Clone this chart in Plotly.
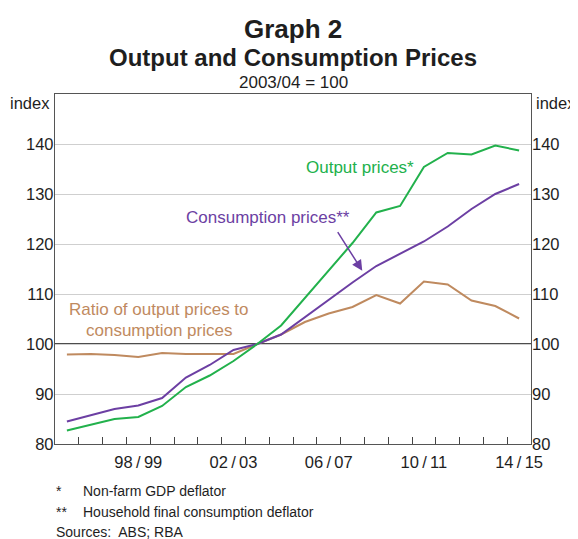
import plotly.graph_objects as go

years = ["95/96", "96/97", "97/98", "98/99", "99/00", "00/01", "01/02", "02/03", "03/04", "04/05",
         "05/06", "06/07", "07/08", "08/09", "09/10", "10/11", "11/12", "12/13", "13/14", "14/15"]
output_prices = [82.7, 83.9, 85.0, 85.4, 87.6, 91.4, 93.7, 96.6, 100.0, 103.7,
                 109.2, 114.8, 120.2, 126.3, 127.6, 135.4, 138.2, 137.9, 139.7, 138.7]
consumption_prices = [84.5, 85.7, 87.0, 87.7, 89.2, 93.3, 95.8, 98.8, 100.0, 101.9,
                      105.4, 108.9, 112.3, 115.6, 118.1, 120.5, 123.5, 127.0, 130.0, 132.0]
ratio = [97.9, 98.0, 97.8, 97.4, 98.2, 98.0, 98.0, 98.0, 100.0, 101.9,
         104.4, 106.1, 107.4, 109.8, 108.1, 112.5, 111.9, 108.7, 107.6, 105.1]
x_tick_idx = [3, 7, 11, 15, 19]
x_tick_text = ["98\u2009/\u200999", "02\u2009/\u200903", "06\u2009/\u200907", "10\u2009/\u200911", "14\u2009/\u200915"]
y_ticks = [80, 90, 100, 110, 120, 130, 140]

GREEN = "#22b14c"
PURPLE = "#6c3fa3"
BROWN = "#bf8a5f"
TEXT = "#1e1e1e"
FONT = "Liberation Sans, Arial, sans-serif"

xs = list(range(len(years)))

fig = go.Figure()
fig.add_trace(go.Scatter(x=xs, y=ratio, mode="lines", line=dict(color=BROWN, width=2), hoverinfo="skip"))
fig.add_trace(go.Scatter(x=xs, y=consumption_prices, mode="lines", line=dict(color=PURPLE, width=2), hoverinfo="skip"))
fig.add_trace(go.Scatter(x=xs, y=output_prices, mode="lines", line=dict(color=GREEN, width=2), hoverinfo="skip"))
# invisible trace to show right-hand axis
fig.add_trace(go.Scatter(x=[xs[8]], y=[100], yaxis="y2", mode="markers", marker=dict(opacity=0), hoverinfo="skip"))

fig.add_shape(type="line", xref="paper", yref="y", x0=0, x1=1, y0=100, y1=100,
              line=dict(color="#111111", width=1.3), layer="below")

ann = []
def txt(text, x, y, xref="paper", yref="paper", size=17, color=TEXT, xanchor="center", bold=False, pad=1):
    ann.append(dict(text=f"<b>{text}</b>" if bold else text, x=x, y=y, xref=xref, yref=yref,
                    showarrow=False, xanchor=xanchor, yanchor="middle", borderpad=pad,
                    font=dict(family=FONT, size=size, color=color)))

txt("Graph 2", 0.5, 1.1857, size=26, bold=True)
txt("Output and Consumption Prices", 0.5, 1.1043, size=24, bold=True)
txt("2003/04 = 100", 0.5, 1.034, size=17)
txt("index", -0.007, 0.974, size=16.5, xanchor="right")
txt("index", 1.007, 0.974, size=16.5, xanchor="left")
txt("Output prices*", 12.31, 135.3, xref="x", yref="y", size=17, color=GREEN)
txt("Consumption prices**", 8.45, 125.3, xref="x", yref="y", size=17, color=PURPLE)
txt("Ratio of output prices to", 3.88, 106.9, xref="x", yref="y", size=17, color=BROWN)
txt("consumption prices", 3.88, 102.64, xref="x", yref="y", size=17, color=BROWN)
txt("*", 0.0, -0.135, size=14, xanchor="left", pad=0)
txt("Non-farm GDP deflator", 0.0567, -0.135, size=14, xanchor="left", pad=0)
txt("**", 0.0, -0.194, size=14, xanchor="left", pad=0)
txt("Household final consumption deflator", 0.0567, -0.194, size=14, xanchor="left", pad=0)
txt("Sources:\u00a0 ABS; RBA", 0.0, -0.2515, size=14, xanchor="left", pad=0)

ann.append(dict(x=12.41, y=114.66, ax=11.34, ay=122.66, xref="x", yref="y", axref="x", ayref="y",
                showarrow=True, arrowhead=2, arrowsize=1.4, arrowwidth=1.5, arrowcolor=PURPLE, text=""))

# page body has an 8px margin, so the figure is drawn 8px smaller and shifted
fig.update_layout(
    width=570, height=531,
    margin=dict(l=47, r=47, t=86, b=95, pad=0),
    paper_bgcolor="white", plot_bgcolor="white",
    showlegend=False,
    annotations=ann,
    font=dict(family=FONT, size=16.5, color=TEXT),
    xaxis=dict(range=[-0.5, len(years) - 0.5], tickvals=x_tick_idx, ticktext=x_tick_text,
               ticks="inside", ticklen=0, showgrid=False, zeroline=False,
               showline=True, mirror=True, linecolor="#555555", linewidth=1.3,
               tickfont=dict(size=16.5, color=TEXT), ticklabelstandoff=3,
               minor=dict(ticks="inside", ticklen=7, tick0=0.5, dtick=1, tickcolor="#444444",
                          tickwidth=1, showgrid=False)),
    yaxis=dict(range=[80, 150], tickvals=y_ticks, showgrid=True, gridcolor="#cfcfcf", gridwidth=1.2,
               zeroline=False, ticks="", showline=True, mirror=True, linecolor="#555555", linewidth=1.3,
               tickfont=dict(size=16.5, color=TEXT), ticklabelstandoff=-3),
    yaxis2=dict(range=[80, 150], tickvals=y_ticks, overlaying="y", side="right", showgrid=False,
                zeroline=False, ticks="", showline=False, tickfont=dict(size=16.5, color=TEXT)),
)

fig.write_html("out.html")
